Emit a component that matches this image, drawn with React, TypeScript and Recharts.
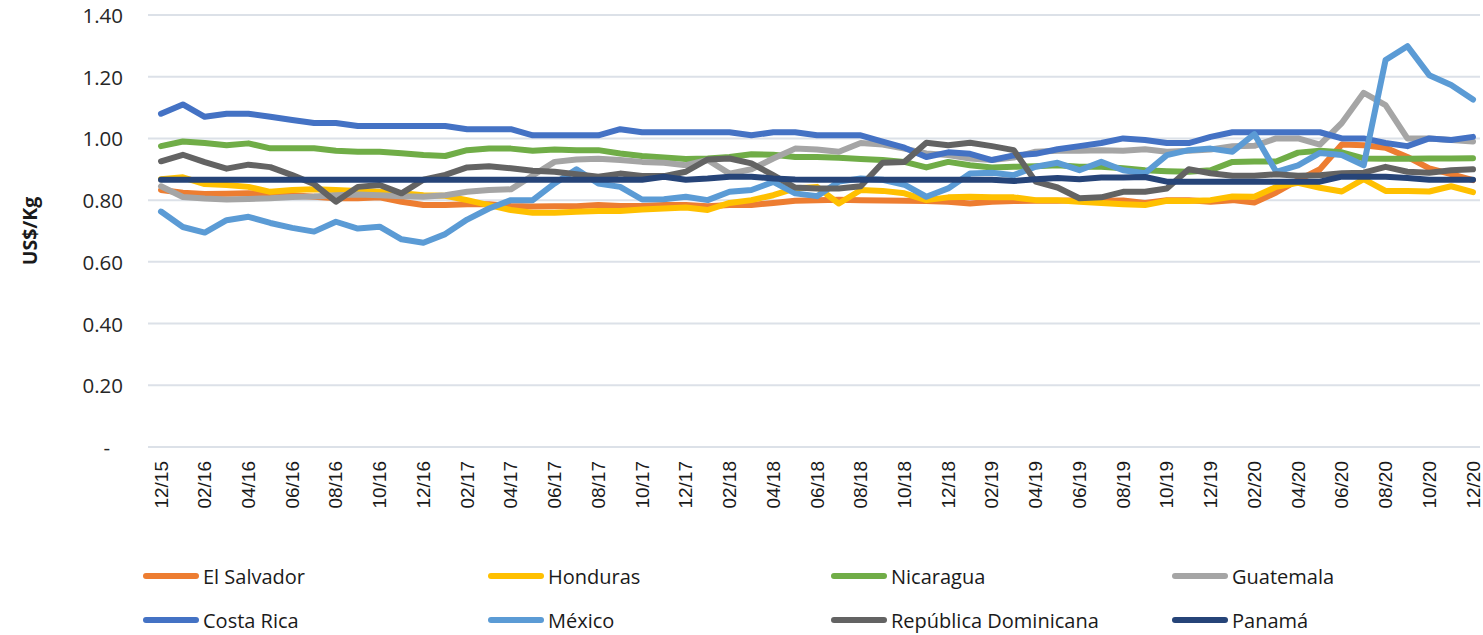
import React from "react";
import { LineChart, Line, XAxis, YAxis, CartesianGrid, Legend } from "recharts";

const months = [
  "12/15", "01/16", "02/16", "03/16", "04/16", "05/16", "06/16", "07/16", "08/16", "09/16", "10/16", "11/16",
  "12/16", "01/17", "02/17", "03/17", "04/17", "05/17", "06/17", "07/17", "08/17", "09/17", "10/17", "11/17",
  "12/17", "01/18", "02/18", "03/18", "04/18", "05/18", "06/18", "07/18", "08/18", "09/18", "10/18", "11/18",
  "12/18", "01/19", "02/19", "03/19", "04/19", "05/19", "06/19", "07/19", "08/19", "09/19", "10/19", "11/19",
  "12/19", "01/20", "02/20", "03/20", "04/20", "05/20", "06/20", "07/20", "08/20", "09/20", "10/20", "11/20",
  "12/20",
];

const yTicks = [0, 0.2, 0.4, 0.6, 0.8, 1.0, 1.2, 1.4];

const elSalvador = [
  0.833, 0.824, 0.82, 0.821, 0.822, 0.821, 0.816, 0.811, 0.806, 0.806, 0.809, 0.795, 0.784, 0.784, 0.787,
  0.787, 0.781, 0.779, 0.78, 0.78, 0.784, 0.781, 0.781, 0.784, 0.784, 0.78, 0.784, 0.784, 0.791, 0.798,
  0.8, 0.801, 0.8, 0.799, 0.798, 0.797, 0.795, 0.789, 0.795, 0.797, 0.798, 0.798, 0.8, 0.798, 0.799,
  0.791, 0.8, 0.8, 0.795, 0.8, 0.792, 0.825, 0.865, 0.9, 0.98, 0.978, 0.97, 0.94, 0.903, 0.884, 0.865,
];

const honduras = [
  0.868, 0.874, 0.852, 0.849, 0.843, 0.827, 0.833, 0.835, 0.833, 0.83, 0.827, 0.822, 0.816, 0.814, 0.8,
  0.784, 0.768, 0.759, 0.759, 0.762, 0.765, 0.765, 0.77, 0.773, 0.776, 0.768, 0.791, 0.8, 0.816, 0.838,
  0.843, 0.789, 0.833, 0.83, 0.822, 0.8, 0.809, 0.811, 0.809, 0.809, 0.8, 0.8, 0.795, 0.791, 0.787,
  0.784, 0.798, 0.797, 0.8, 0.812, 0.811, 0.843, 0.856, 0.84, 0.828, 0.868, 0.83, 0.83, 0.828, 0.845, 0.826,
];

const nicaragua = [
  0.975, 0.99, 0.985, 0.978, 0.984, 0.968, 0.968, 0.968, 0.96, 0.957, 0.957, 0.952, 0.946, 0.943, 0.962,
  0.967, 0.967, 0.96, 0.964, 0.962, 0.962, 0.951, 0.943, 0.938, 0.933, 0.935, 0.94, 0.949, 0.947, 0.94,
  0.94, 0.937, 0.933, 0.93, 0.924, 0.906, 0.924, 0.913, 0.906, 0.908, 0.91, 0.913, 0.908, 0.908, 0.903,
  0.897, 0.894, 0.892, 0.897, 0.924, 0.925, 0.925, 0.954, 0.96, 0.955, 0.935, 0.934, 0.934, 0.935, 0.935, 0.936,
];

const guatemala = [
  0.845, 0.81, 0.805, 0.802, 0.804, 0.806, 0.81, 0.812, 0.816, 0.818, 0.816, 0.813, 0.811, 0.816, 0.827,
  0.833, 0.835, 0.88, 0.924, 0.932, 0.934, 0.93, 0.924, 0.921, 0.913, 0.93, 0.886, 0.9, 0.935, 0.967,
  0.964, 0.957, 0.985, 0.98, 0.967, 0.951, 0.946, 0.935, 0.93, 0.938, 0.957, 0.96, 0.96, 0.962, 0.96,
  0.965, 0.957, 0.96, 0.964, 0.975, 0.976, 1.0, 1.0, 0.98, 1.05, 1.148, 1.108, 1.0, 1.0, 0.995, 0.99,
];

const costaRica = [
  1.08, 1.11, 1.07, 1.08, 1.08, 1.07, 1.06, 1.05, 1.05, 1.04, 1.04, 1.04, 1.04, 1.04, 1.03,
  1.03, 1.03, 1.01, 1.01, 1.01, 1.01, 1.03, 1.02, 1.02, 1.02, 1.02, 1.02, 1.01, 1.02, 1.02,
  1.01, 1.01, 1.01, 0.99, 0.97, 0.94, 0.955, 0.95, 0.93, 0.945, 0.95, 0.965, 0.975, 0.985, 1.0,
  0.995, 0.985, 0.985, 1.005, 1.02, 1.02, 1.02, 1.02, 1.02, 1.0, 1.0, 0.985, 0.975, 1.0, 0.995, 1.005,
];

const mexico = [
  0.763, 0.713, 0.695, 0.735, 0.746, 0.726, 0.71, 0.698, 0.73, 0.708, 0.714, 0.673, 0.662, 0.69, 0.737,
  0.773, 0.8, 0.8, 0.854, 0.9, 0.854, 0.843, 0.802, 0.803, 0.811, 0.8, 0.827, 0.833, 0.859, 0.822,
  0.813, 0.86, 0.87, 0.866, 0.85, 0.811, 0.838, 0.886, 0.889, 0.881, 0.908, 0.921, 0.897, 0.924, 0.897,
  0.887, 0.946, 0.962, 0.967, 0.957, 1.014, 0.892, 0.913, 0.953, 0.946, 0.913, 1.254, 1.299, 1.205, 1.173, 1.126,
];

const repDominicana = [
  0.926, 0.947, 0.923, 0.902, 0.915, 0.907, 0.881, 0.852, 0.795, 0.843, 0.849, 0.822, 0.866, 0.882, 0.906,
  0.91, 0.903, 0.895, 0.892, 0.884, 0.876, 0.886, 0.878, 0.878, 0.892, 0.932, 0.935, 0.919, 0.881, 0.841,
  0.838, 0.838, 0.845, 0.921, 0.924, 0.986, 0.978, 0.986, 0.975, 0.962, 0.86, 0.841, 0.806, 0.809, 0.827,
  0.827, 0.838, 0.9, 0.887, 0.879, 0.879, 0.884, 0.879, 0.881, 0.887, 0.889, 0.908, 0.892, 0.889, 0.897, 0.9,
];

const panama = [
  0.866, 0.866, 0.866, 0.866, 0.866, 0.866, 0.866, 0.866, 0.866, 0.866, 0.866, 0.866, 0.866, 0.866, 0.866,
  0.866, 0.866, 0.866, 0.866, 0.866, 0.866, 0.866, 0.866, 0.876, 0.866, 0.87, 0.876, 0.876, 0.87, 0.867,
  0.866, 0.866, 0.866, 0.866, 0.866, 0.866, 0.866, 0.866, 0.866, 0.862, 0.868, 0.872, 0.868, 0.873, 0.873,
  0.875, 0.86, 0.86, 0.86, 0.86, 0.86, 0.86, 0.86, 0.86, 0.876, 0.876, 0.876, 0.872, 0.866, 0.866, 0.866,
];

const series = [
  { key: "elSalvador", name: "El Salvador", color: "#ED7D31", values: elSalvador },
  { key: "honduras", name: "Honduras", color: "#FFC000", values: honduras },
  { key: "nicaragua", name: "Nicaragua", color: "#70AD47", values: nicaragua },
  { key: "guatemala", name: "Guatemala", color: "#A5A5A5", values: guatemala },
  { key: "costaRica", name: "Costa Rica", color: "#4472C4", values: costaRica },
  { key: "mexico", name: "México", color: "#5B9BD5", values: mexico },
  { key: "repDominicana", name: "República Dominicana", color: "#636363", values: repDominicana },
  { key: "panama", name: "Panamá", color: "#264478", values: panama },
];

const data = months.map((month, i) => {
  const row: Record<string, string | number> = { month };
  series.forEach((s) => {
    row[s.key] = s.values[i];
  });
  return row;
});

const GRID = "#DCE1E8";
const SANS = "'Open Sans', sans-serif";

const XTick = ({ x, y, payload }: any) => (
  <text
    x={x}
    y={y}
    transform={`rotate(-90, ${x}, ${y})`}
    textAnchor="end"
    dominantBaseline="central"
    fontFamily="'Liberation Sans', Arial, sans-serif"
    fontSize={19}
    fill="#1a1a1a"
  >
    {payload.value}
  </text>
);

const YTick = ({ x, y, payload }: any) => {
  const zero = payload.value === 0;
  return (
    <text
      x={zero ? x - 13 : x}
      y={y}
      textAnchor="end"
      dominantBaseline="central"
      fontFamily={SANS}
      fontSize={20.5}
      fill="#262626"
    >
      {zero ? "-" : payload.value.toFixed(2)}
    </text>
  );
};

const YLabel = ({ viewBox }: any) => {
  const cx = viewBox.x + 29;
  const cy = viewBox.y + viewBox.height / 2;
  return (
    <text
      x={cx}
      y={cy}
      transform={`rotate(-90, ${cx}, ${cy})`}
      textAnchor="middle"
      dominantBaseline="central"
      fontFamily={SANS}
      fontWeight={700}
      fontSize={19.5}
      fill="#1a1a1a"
    >
      US$/Kg
    </text>
  );
};

const LegendContent = () => (
  <div
    style={{
      display: "grid",
      gridTemplateColumns: "345px 343px 341px 220px",
      gridAutoRows: "30px",
      rowGap: 14,
      paddingLeft: 143,
      paddingTop: 14,
      height: 88,
      boxSizing: "border-box",
    }}
  >
    {series.map((s) => (
      <div key={s.key} style={{ display: "flex", alignItems: "center", whiteSpace: "nowrap" }}>
        <span
          style={{
            display: "inline-block",
            width: 56,
            height: 6,
            borderRadius: 3,
            background: s.color,
          }}
        />
        <span style={{ marginLeft: 4, fontFamily: SANS, fontSize: 20, color: "#1a1a1a" }}>{s.name}</span>
      </div>
    ))}
  </div>
);

export default function App() {
  return (
    <div style={{ position: "absolute", left: 0, top: 0 }}>
      <LineChart width={1483} height={635} data={data} margin={{ top: 15, right: 3, left: 0, bottom: 0 }}>
        <CartesianGrid vertical={false} stroke={GRID} strokeWidth={2} />
        <XAxis
          dataKey="month"
          interval={1}
          height={100}
          padding={{ left: 13, right: 7 }}
          tickSize={0}
          tickMargin={14}
          tick={<XTick />}
          axisLine={{ stroke: GRID, strokeWidth: 2 }}
          tickLine={false}
        />
        <YAxis
          width={148}
          domain={[0, 1.4]}
          ticks={yTicks}
          tickSize={0}
          tickMargin={25}
          tick={<YTick />}
          axisLine={false}
          tickLine={false}
          label={<YLabel />}
        />
        <Legend verticalAlign="bottom" height={88} content={<LegendContent />} />
        {series.map((s) => (
          <Line
            key={s.key}
            type="linear"
            dataKey={s.key}
            name={s.name}
            stroke={s.color}
            strokeWidth={6}
            strokeLinejoin="round"
            strokeLinecap="round"
            dot={false}
            activeDot={false}
            isAnimationActive={false}
          />
        ))}
      </LineChart>
    </div>
  );
}
